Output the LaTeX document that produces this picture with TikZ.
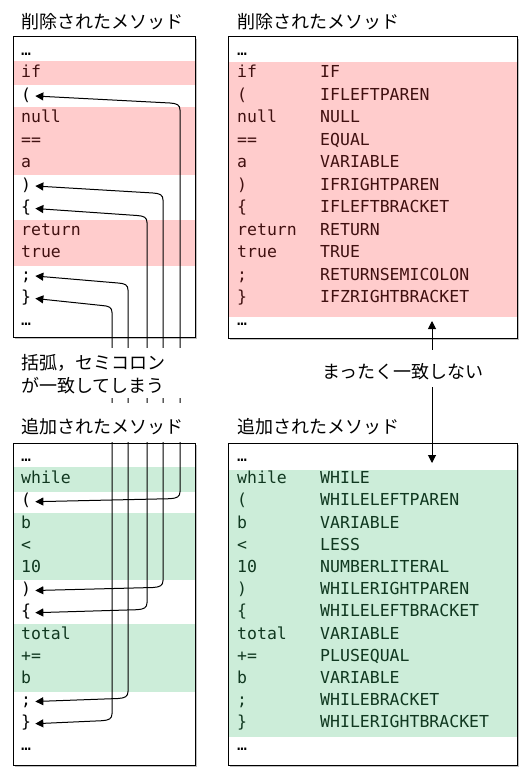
\documentclass[tikz,border=0pt]{standalone}
\usepackage{fontspec}
\setmainfont{DejaVu Sans}
\newfontfamily\monofam{DejaVu Sans Mono}
\newfontfamily\jpfam{Noto Sans CJK JP}
\usetikzlibrary{arrows.meta,shadows,calc}
\definecolor{pinkbg}{RGB}{255,204,204}
\definecolor{greenbg}{RGB}{204,237,217}
\definecolor{pinktx}{RGB}{64,16,16}
\definecolor{greentx}{RGB}{16,56,32}
\newcommand{\tokenlink}[5]{%
  \draw[conn] ([xshift=4pt]#1.east) -- (#3-10,#4-3)
    .. controls (#3-3,#4-3.4) and (#3,#4-5) .. (#3,#4-10)
    -- (#3,#5+14)
    .. controls (#3,#5+9) and (#3-3,#5+7.4) .. (#3-10,#5+7)
    -- ([xshift=4pt]#2.east);}
\begin{document}
\begin{tikzpicture}[x=1pt,y=-1pt,
  code/.style={font=\monofam\fontsize{16.5}{20}\selectfont, inner sep=0pt, anchor=west, text height=12pt, text depth=3.5pt},
  pcode/.style={code, text=pinktx},
  gcode/.style={code, text=greentx},
  lbl/.style={font=\jpfam\fontsize{18}{23}\selectfont, inner sep=0pt, anchor=base west},
  boxbg/.style={fill=white, draw=none, inner sep=0pt, anchor=north west, drop shadow={shadow xshift=2pt, shadow yshift=-2pt, opacity=0.5}},
  boxline/.style={draw=black, line width=1pt},
  conn/.style={line width=1pt, {Triangle[length=8pt,width=8pt]}-{Triangle[length=8pt,width=8pt]}}
]
\useasboundingbox (0,0) rectangle (525,776);

% ---------- labels ----------
\node[lbl] (lTL) at (21,29) {削除されたメソッド};
\node[lbl] (lTR) at (237,29) {削除されたメソッド};
\node[lbl] (lBR) at (237,433) {追加されたメソッド};

% ---------- top-left box ----------
\node[boxbg, minimum width=182pt, minimum height=300pt] (TL) at (13,37) {};
\fill[pinkbg] (13,61.5) rectangle (195,85);
\fill[pinkbg] (13,107) rectangle (195,175);
\fill[pinkbg] (13,219.5) rectangle (195,265.5);
\draw[boxline] (TL.north west) rectangle (TL.south east);
\node[code]  (tl0)  at (21,51)    {…};
\node[pcode] (tl1)  at (21,73.5)  {if};
\node[code]  (tl2)  at (21,96)    {(};
\node[pcode] (tl3)  at (21,118.5) {null};
\node[pcode] (tl4)  at (21,141)   {==};
\node[pcode] (tl5)  at (21,163.5) {a};
\node[code]  (tl6)  at (21,186)   {)};
\node[code]  (tl7)  at (21,208.5) {\{};
\node[pcode] (tl8)  at (21,231)   {return};
\node[pcode] (tl9)  at (21,253.5) {true};
\node[code]  (tl10) at (21,276)   {;};
\node[code]  (tl11) at (21,298.5) {\}};
\node[code]  (tl12) at (21,321)   {…};

% ---------- top-right box ----------
\node[boxbg, minimum width=289pt, minimum height=301pt] (TR) at (228,37) {};
\fill[pinkbg] (228,62.5) rectangle (517,316.5);
\draw[boxline] (TR.north west) rectangle (TR.south east);
\node[code]  (tr0)  at (237,51)    {…};
\node[pcode] (tr1)  at (237,73.5)  {if};
\node[pcode] (tr2)  at (237,96)    {(};
\node[pcode] (tr3)  at (237,118.5) {null};
\node[pcode] (tr4)  at (237,141)   {==};
\node[pcode] (tr5)  at (237,163.5) {a};
\node[pcode] (tr6)  at (237,186)   {)};
\node[pcode] (tr7)  at (237,208.5) {\{};
\node[pcode] (tr8)  at (237,231)   {return};
\node[pcode] (tr9)  at (237,253.5) {true};
\node[pcode] (tr10) at (237,276)   {;};
\node[pcode] (tr11) at (237,298.5) {\}};
\node[code]  (tr12) at (237,321)   {…};
\node[pcode] (tk1)  at (320,73.5)  {IF};
\node[pcode] (tk2)  at (320,96)    {IFLEFTPAREN};
\node[pcode] (tk3)  at (320,118.5) {NULL};
\node[pcode] (tk4)  at (320,141)   {EQUAL};
\node[pcode] (tk5)  at (320,163.5) {VARIABLE};
\node[pcode] (tk6)  at (320,186)   {IFRIGHTPAREN};
\node[pcode] (tk7)  at (320,208.5) {IFLEFTBRACKET};
\node[pcode] (tk8)  at (320,231)   {RETURN};
\node[pcode] (tk9)  at (320,253.5) {TRUE};
\node[pcode] (tk10) at (320,276)   {RETURNSEMICOLON};
\node[pcode] (tk11) at (320,298.5) {IFZRIGHTBRACKET};

% ---------- bottom-left box ----------
\node[boxbg, minimum width=182pt, minimum height=322pt] (BL) at (13,443) {};
\fill[greenbg] (13,467) rectangle (195,492);
\fill[greenbg] (13,513) rectangle (195,580);
\fill[greenbg] (13,624) rectangle (195,692);
\draw[boxline] (BL.north west) rectangle (BL.south east);
\node[code]  (bl0)  at (21,457.3) {…};
\node[gcode] (bl1)  at (21,479.5) {while};
\node[code]  (bl2)  at (21,501.7) {(};
\node[gcode] (bl3)  at (21,523.9) {b};
\node[gcode] (bl4)  at (21,546.1) {<};
\node[gcode] (bl5)  at (21,568.3) {10};
\node[code]  (bl6)  at (21,590.5) {)};
\node[code]  (bl7)  at (21,612.7) {\{};
\node[gcode] (bl8)  at (21,634.9) {total};
\node[gcode] (bl9)  at (21,657.1) {+=};
\node[gcode] (bl10) at (21,679.3) {b};
\node[code]  (bl11) at (21,701.5) {;};
\node[code]  (bl12) at (21,723.7) {\}};
\node[code]  (bl13) at (21,745.9) {…};

% ---------- bottom-right box ----------
\node[boxbg, minimum width=289pt, minimum height=322pt] (BR) at (228,443) {};
\fill[greenbg] (228,469.5) rectangle (517,737);
\draw[boxline] (BR.north west) rectangle (BR.south east);
\node[code]  (br0)  at (237,457.3) {…};
\node[gcode] (br1)  at (237,479.5) {while};
\node[gcode] (br2)  at (237,501.7) {(};
\node[gcode] (br3)  at (237,523.9) {b};
\node[gcode] (br4)  at (237,546.1) {<};
\node[gcode] (br5)  at (237,568.3) {10};
\node[gcode] (br6)  at (237,590.5) {)};
\node[gcode] (br7)  at (237,612.7) {\{};
\node[gcode] (br8)  at (237,634.9) {total};
\node[gcode] (br9)  at (237,657.1) {+=};
\node[gcode] (br10) at (237,679.3) {b};
\node[gcode] (br11) at (237,701.5) {;};
\node[gcode] (br12) at (237,723.7) {\}};
\node[code]  (br13) at (237,745.9) {…};
\node[gcode] (bk1)  at (320,479.5) {WHILE};
\node[gcode] (bk2)  at (320,501.7) {WHILELEFTPAREN};
\node[gcode] (bk3)  at (320,523.9) {VARIABLE};
\node[gcode] (bk4)  at (320,546.1) {LESS};
\node[gcode] (bk5)  at (320,568.3) {NUMBERLITERAL};
\node[gcode] (bk6)  at (320,590.5) {WHILERIGHTPAREN};
\node[gcode] (bk7)  at (320,612.7) {WHILELEFTBRACKET};
\node[gcode] (bk8)  at (320,634.9) {VARIABLE};
\node[gcode] (bk9)  at (320,657.1) {PLUSEQUAL};
\node[gcode] (bk10) at (320,679.3) {VARIABLE};
\node[gcode] (bk11) at (320,701.5) {WHILEBRACKET};
\node[gcode] (bk12) at (320,723.7) {WHILERIGHTBRACKET};

% ---------- left connectors ----------
\tokenlink{bl2}{tl2}{180}{501.7}{96}
\tokenlink{bl6}{tl6}{163}{590.5}{186}
\tokenlink{bl7}{tl7}{147}{612.7}{208.5}
\tokenlink{bl11}{tl10}{128}{701.5}{276}
\tokenlink{bl12}{tl11}{112}{723.7}{298.5}

% white-backed texts over the connectors
\node[lbl, fill=white, text width=162pt, align=left, text height=21pt, text depth=2pt] (m1) at (21,369) {括弧，セミコロン};
\node[lbl, fill=white, text width=162pt, align=left, text height=21pt, text depth=6pt] (m2) at (21,392) {が一致してしまう};
\node[lbl, fill=white, text height=30pt, text depth=9pt] (lBL) at (21,433) {追加されたメソッド};

% ---------- right connector ----------
\coordinate (upTip) at (432,321);
\coordinate (dnTip) at (432,463);
\draw[conn] (dnTip) -- (upTip);
\node[lbl, fill=white, text height=28pt, text depth=9pt] (mr) at (322,378) {まったく一致しない};
\end{tikzpicture}
\end{document}
